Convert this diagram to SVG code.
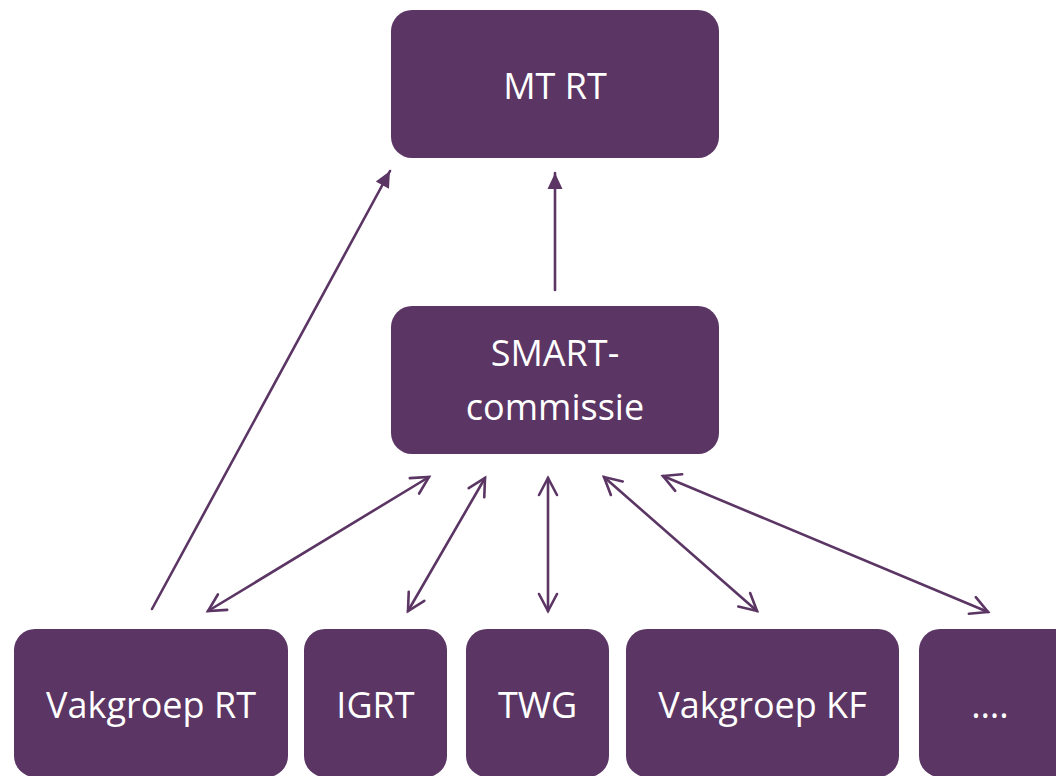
<svg xmlns="http://www.w3.org/2000/svg" width="1056" height="776" viewBox="0 0 1056 776">
  <style>
    .box { fill: #5B3563; }
    .lbl { fill: #FFFFFF; font-family: "Open Sans", "Liberation Sans", sans-serif; font-size: 36px; text-anchor: middle; }
    .link { stroke: #5B3563; stroke-width: 2.6; fill: none; stroke-linecap: round; }
  </style>
  <defs>
    <!-- solid triangular head for one-way links -->
    <marker id="solid" markerUnits="userSpaceOnUse" orient="auto" overflow="visible" refX="0" refY="0" markerWidth="20" markerHeight="20">
      <path d="M0,0 L-16,-7.5 L-16,7.5 Z" fill="#5B3563"/>
    </marker>
    <!-- open chevron head for two-way links -->
    <marker id="open" markerUnits="userSpaceOnUse" orient="auto-start-reverse" overflow="visible" refX="0" refY="0" markerWidth="24" markerHeight="24">
      <path d="M-17,-9 L0,0 L-17,9" fill="none" stroke="#5B3563" stroke-width="2.6" stroke-linecap="round" stroke-linejoin="miter"/>
    </marker>
  </defs>

  <g id="connectors">
    <line class="link" x1="152" y1="609" x2="390" y2="171" marker-end="url(#solid)"/>
    <line class="link" x1="555" y1="290" x2="555" y2="173" marker-end="url(#solid)"/>
    <line class="link" x1="208" y1="611" x2="429" y2="477" marker-start="url(#open)" marker-end="url(#open)"/>
    <line class="link" x1="408" y1="611" x2="485" y2="478" marker-start="url(#open)" marker-end="url(#open)"/>
    <line class="link" x1="548" y1="611" x2="548" y2="478" marker-start="url(#open)" marker-end="url(#open)"/>
    <line class="link" x1="757" y1="611" x2="604" y2="477" marker-start="url(#open)" marker-end="url(#open)"/>
    <line class="link" x1="988" y1="612" x2="663" y2="476" marker-start="url(#open)" marker-end="url(#open)"/>
  </g>

  <g id="mt-rt">
    <rect class="box" x="391" y="10" width="328" height="148" rx="21"/>
    <text class="lbl" x="555" y="99">MT RT</text>
  </g>

  <g id="smart-commissie">
    <rect class="box" x="391" y="306" width="328" height="148" rx="21"/>
    <text class="lbl" x="555" y="366">SMART-</text>
    <text class="lbl" x="555" y="420">commissie</text>
  </g>

  <g id="vakgroep-rt">
    <rect class="box" x="14" y="629" width="274" height="148" rx="21"/>
    <text class="lbl" x="151" y="718">Vakgroep RT</text>
  </g>

  <g id="igrt">
    <rect class="box" x="304" y="629" width="143" height="148" rx="21"/>
    <text class="lbl" x="375.5" y="718">IGRT</text>
  </g>

  <g id="twg">
    <rect class="box" x="466" y="629" width="143" height="148" rx="21"/>
    <text class="lbl" x="537.5" y="718">TWG</text>
  </g>

  <g id="vakgroep-kf">
    <rect class="box" x="626" y="629" width="273" height="148" rx="21"/>
    <text class="lbl" x="762.5" y="718">Vakgroep KF</text>
  </g>

  <g id="more">
    <rect class="box" x="919" y="629" width="160" height="148" rx="21"/>
    <text class="lbl" x="990" y="718">….</text>
  </g>
</svg>
